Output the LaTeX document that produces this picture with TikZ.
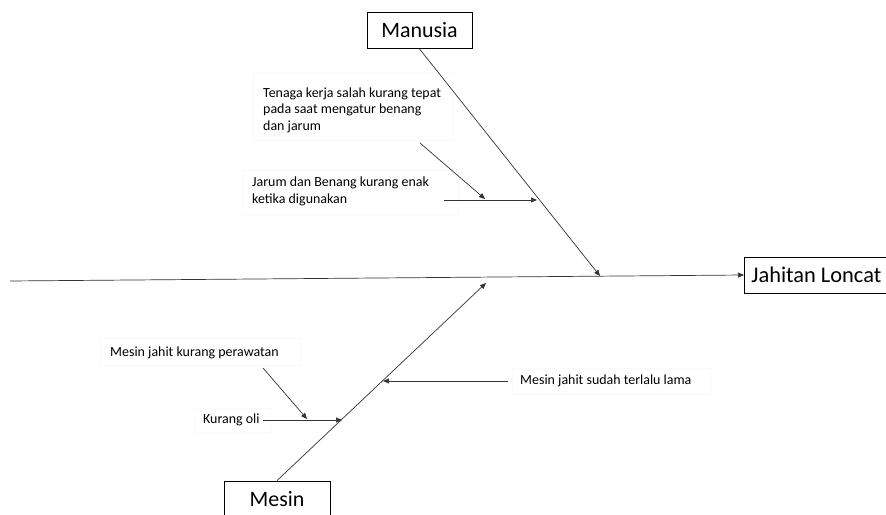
\documentclass[tikz,border=0pt]{standalone}
\usepackage{fontspec}
\setmainfont{Carlito}
\usetikzlibrary{arrows.meta}
\begin{document}
\begin{tikzpicture}[x=1bp,y=-1bp,
  conn/.style={draw=black!80, line width=0.7bp, -{Triangle[length=6bp,width=5bp]}},
  catbox/.style={draw, line width=0.8bp, rectangle, font=\fontsize{22}{26}\selectfont, inner sep=0pt, minimum height=36bp},
  lbl/.style={font=\fontsize{14}{16.5}\selectfont, align=left, inner sep=0pt, text=black},
  faint/.style={draw=black!2, line width=0.4bp}]
\useasboundingbox (0,0) rectangle (886,515);
\fill[white] (0,0) rectangle (886,515);
% faint text boxes
\draw[faint] (253,72) rectangle (452,140);
\draw[faint] (243,170) rectangle (458,215);
\draw[faint] (100,338) rectangle (300,365);
\draw[faint] (195,408) rectangle (270,432);
\draw[faint] (512,368) rectangle (710,394);
% category and effect nodes
\node[catbox, minimum width=105bp] (manusia) at (419.5,30.5) {Manusia};
\node[catbox, minimum width=106bp] (mesin) at (277,499) {Mesin};
\node[catbox, anchor=west, inner xsep=7bp, font=\fontsize{22.5}{27}\selectfont] (effect) at (744,275) {Jahitan Loncat\hspace{30bp}};
% spine
\coordinate (tail) at (10,281);
\draw[conn] (tail) -- (effect.west);
% bone heads
\coordinate (h1) at (600,276);
\coordinate (h2) at (486,283);
\draw[conn] (manusia.south) -- (h1);
\draw[conn] (mesin.north) -- (h2);
% labels
\node[lbl, anchor=west] (t1) at (263,110) {Tenaga kerja salah kurang tepat\\pada saat mengatur benang\\dan jarum};
\node[lbl, anchor=west] (t2) at (252,191.5) {Jarum dan Benang kurang enak\\ketika digunakan};
\node[lbl, anchor=west] (t3) at (110,353) {Mesin jahit kurang perawatan};
\node[lbl, anchor=west] (t4) at (203,420) {Kurang oli};
\node[lbl, anchor=west] (t5) at (520,381) {Mesin jahit sudah terlalu lama};
% sub-cause arrows
\coordinate (s1a) at (420,143);
\coordinate (s1b) at (485,199);
\coordinate (s2a) at (444,200);
\coordinate (s2b) at (537,200);
\coordinate (s3a) at (263,368);
\coordinate (s3b) at (307,419);
\coordinate (s4a) at (263,420);
\coordinate (s4b) at (342,420);
\coordinate (s5a) at (508,381);
\coordinate (s5b) at (383,381);
\draw[conn] (s1a) -- (s1b);
\draw[conn] (s2a) -- (s2b);
\draw[conn] (s3a) -- (s3b);
\draw[conn] (s4a) -- (s4b);
\draw[conn] (s5a) -- (s5b);
\end{tikzpicture}
\end{document}
